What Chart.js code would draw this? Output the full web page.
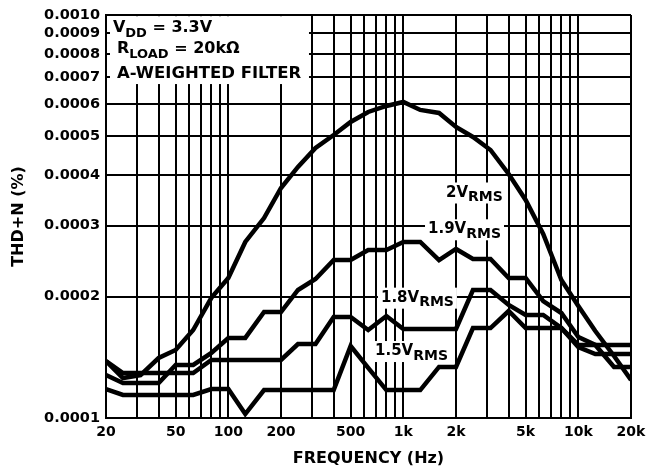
<!DOCTYPE html>
<html>
<head>
<meta charset="utf-8">
<title>THD+N vs Frequency</title>
<script src="https://cdn.jsdelivr.net/npm/chart.js@4/dist/chart.umd.min.js"></script>
<style>
    html, body { margin: 0; padding: 0; background: #fff; }
    canvas { display: block; }
</style>
</head>
<body>
<canvas id="thdChart" width="658" height="471"></canvas>
<script>
// ============================================
// DATA
// ============================================

// 1/3-octave measurement frequencies (Hz)
const frequencies = [20, 25, 31.5, 40, 50, 63, 80, 100, 125, 160,
    200, 250, 315, 400, 500, 630, 800, 1000, 1250, 1600,
    2000, 2500, 3150, 4000, 5000, 6300, 8000, 10000, 12500, 16000, 20000];

// THD+N (%) per output level
const thd2V = [0.0001385, 0.0001257, 0.0001278, 0.0001409, 0.0001475, 0.0001653, 0.0001986, 0.0002226, 0.0002734, 0.0003135,
    0.0003722, 0.0004197, 0.0004677, 0.0005038, 0.0005427, 0.0005746, 0.0005947, 0.0006084, 0.0005813, 0.0005713,
    0.0005275, 0.0004981, 0.0004624, 0.0004033, 0.0003475, 0.0002861, 0.0002200, 0.0001897, 0.0001644, 0.0001425, 0.0001243];

const thd19V = [0.0001278, 0.0001221, 0.0001221, 0.0001221, 0.0001354, 0.0001354, 0.0001450, 0.0001580, 0.0001580, 0.0001832,
    0.0001832, 0.0002078, 0.0002213, 0.0002466, 0.0002466, 0.0002612, 0.0002612, 0.0002734, 0.0002734, 0.0002466,
    0.0002627, 0.0002480, 0.0002480, 0.0002226, 0.0002226, 0.0001951, 0.0001822, 0.0001589, 0.0001518, 0.0001339, 0.0001339];

const thd18V = [0.0001385, 0.0001293, 0.0001293, 0.0001293, 0.0001293, 0.0001293, 0.0001393, 0.0001393, 0.0001393, 0.0001393,
    0.0001393, 0.0001526, 0.0001526, 0.0001781, 0.0001781, 0.0001653, 0.0001791, 0.0001663, 0.0001663, 0.0001663,
    0.0001663, 0.0002078, 0.0002078, 0.0001908, 0.0001801, 0.0001801, 0.0001672, 0.0001500, 0.0001441, 0.0001441, 0.0001441];

const thd15V = [0.0001180, 0.0001141, 0.0001141, 0.0001141, 0.0001141, 0.0001141, 0.0001180, 0.0001180, 0.0001023, 0.0001173,
    0.0001173, 0.0001173, 0.0001173, 0.0001173, 0.0001509, 0.0001331, 0.0001173, 0.0001173, 0.0001173, 0.0001339,
    0.0001339, 0.0001672, 0.0001672, 0.0001843, 0.0001672, 0.0001672, 0.0001672, 0.0001518, 0.0001518, 0.0001518, 0.0001518];

// Axis grid / tick values
const xGridValues = [20, 30, 40, 50, 60, 70, 80, 90, 100,
    200, 300, 400, 500, 600, 700, 800, 900, 1000,
    2000, 3000, 4000, 5000, 6000, 7000, 8000, 9000, 10000, 20000];
const xTickLabels = [20, 50, 100, 200, 500, 1000, 2000, 5000, 10000, 20000];
const yTickValues = [0.0001, 0.0002, 0.0003, 0.0004, 0.0005, 0.0006, 0.0007, 0.0008, 0.0009, 0.0010];

// Curve labels: main text, subscript, anchor (Hz, %)
const curveLabels = [
    { main: '2V', sub: 'RMS', f: 1754, v: 0.0003545 },
    { main: '1.9V', sub: 'RMS', f: 1384, v: 0.0002873 },
    { main: '1.8V', sub: 'RMS', f: 745, v: 0.0001944 },
    { main: '1.5V', sub: 'RMS', f: 689, v: 0.0001433 }
];

// Conditions box lines: [main, subscript, rest]
const conditionLines = [
    ['V', 'DD', ' = 3.3V'],
    ['R', 'LOAD', ' = 20k\u03A9'],
    ['A-WEIGHTED FILTER', '', '']
];

// ============================================
// CHART
// ============================================

const FONT = '"DejaVu Sans", "Liberation Sans", sans-serif';

const toPoints = series => series.map((v, i) => ({ x: frequencies[i], y: v }));

const curveStyle = {
    borderColor: '#000',
    borderWidth: 4.5,
    pointRadius: 0,
    tension: 0,
    fill: false
};

/**
 * Draw a label made of main text + lowered subscript
 */
function drawSubText(ctx, x, y, main, sub, rest, mainSize, subSize) {
    ctx.font = `bold ${mainSize}px ${FONT}`;
    ctx.fillText(main, x, y);
    let cx = x + ctx.measureText(main).width;
    if (sub) {
        ctx.font = `bold ${subSize}px ${FONT}`;
        ctx.fillText(sub, cx, y + 4.5);
        cx += ctx.measureText(sub).width;
    }
    if (rest) {
        ctx.font = `bold ${mainSize}px ${FONT}`;
        ctx.fillText(rest, cx, y);
        cx += ctx.measureText(rest).width;
    }
    return cx;
}

const annotationPlugin = {
    id: 'thdAnnotations',
    beforeDatasetsDraw(chart) {
        const { ctx, chartArea } = chart;
        const xs = chart.scales.x;
        const ys = chart.scales.y;
        ctx.save();
        ctx.textBaseline = 'alphabetic';
        ctx.textAlign = 'left';

        // conditions box (white, covers the grid)
        const boxRight = xs.getPixelForValue(289);
        const boxBottom = ys.getPixelForValue(0.000674);
        ctx.fillStyle = '#fff';
        ctx.fillRect(chartArea.left + 4, chartArea.top + 1.2, boxRight - chartArea.left - 4, boxBottom - chartArea.top - 1.2);

        ctx.fillStyle = '#000';
        const boxX = xs.getPixelForValue(21.9);
        const baselines = [0.000905, 0.0008035, 0.000698];
        conditionLines.forEach((line, i) => {
            const indent = i === 0 ? 0 : 4;
            const size = i === 2 ? 16.5 : 16;
            drawSubText(ctx, boxX + indent, ys.getPixelForValue(baselines[i]), line[0], line[1], line[2], size, 13);
        });

        // curve labels with white backing
        curveLabels.forEach(lbl => {
            const x = xs.getPixelForValue(lbl.f);
            const y = ys.getPixelForValue(lbl.v);
            ctx.font = `bold 15px ${FONT}`;
            const w1 = ctx.measureText(lbl.main).width;
            ctx.font = `bold 14px ${FONT}`;
            const w2 = ctx.measureText(lbl.sub).width;
            ctx.fillStyle = '#fff';
            ctx.fillRect(x - 3, y - 14, w1 + w2 + 6, 21);
            ctx.fillStyle = '#000';
            drawSubText(ctx, x, y, lbl.main, lbl.sub, '', 15, 14);
        });
        ctx.restore();
    }
};

const formatFreq = v => (v >= 1000 ? (v / 1000) + 'k' : String(v));

new Chart(document.getElementById('thdChart'), {
    type: 'line',
    data: {
        datasets: [
            { label: '2VRMS', data: toPoints(thd2V), ...curveStyle },
            { label: '1.9VRMS', data: toPoints(thd19V), ...curveStyle },
            { label: '1.8VRMS', data: toPoints(thd18V), ...curveStyle },
            { label: '1.5VRMS', data: toPoints(thd15V), ...curveStyle }
        ]
    },
    options: {
        responsive: false,
        animation: false,
        devicePixelRatio: 1,
        layout: { padding: { left: 0, top: 15, right: 27, bottom: 0 } },
        plugins: {
            legend: { display: false },
            tooltip: { enabled: false }
        },
        scales: {
            x: {
                type: 'logarithmic',
                min: 20,
                max: 20000,
                afterBuildTicks(scale) {
                    scale.ticks = xGridValues.map(v => ({ value: v }));
                },
                afterFit(scale) { scale.height = 53; },
                ticks: {
                    autoSkip: false,
                    maxRotation: 0,
                    padding: 6,
                    color: '#000',
                    font: { family: FONT, weight: 'bold', size: 14 },
                    callback: value => (xTickLabels.includes(value) ? formatFreq(value) : '')
                },
                grid: { color: '#000', lineWidth: 2, drawTicks: false },
                border: { display: true, color: '#000', width: 2 },
                title: {
                    display: true,
                    text: 'FREQUENCY (Hz)',
                    color: '#000',
                    font: { family: FONT, weight: 'bold', size: 16 },
                    padding: { top: 0, bottom: 2.5 }
                }
            },
            y: {
                type: 'logarithmic',
                min: 0.0001,
                max: 0.001,
                afterBuildTicks(scale) {
                    scale.ticks = yTickValues.map(v => ({ value: v }));
                },
                afterFit(scale) { scale.width = 106; },
                ticks: {
                    autoSkip: false,
                    padding: 6,
                    color: '#000',
                    font: { family: FONT, weight: 'bold', size: 14.5 },
                    callback: value => value.toFixed(4)
                },
                grid: { color: '#000', lineWidth: 2, drawTicks: false },
                border: { display: true, color: '#000', width: 2 },
                title: {
                    display: true,
                    text: 'THD+N (%)',
                    color: '#000',
                    font: { family: FONT, weight: 'bold', size: 16 },
                    padding: { top: 9, bottom: 0 }
                }
            }
        }
    },
    plugins: [annotationPlugin]
});
</script>
</body>
</html>
